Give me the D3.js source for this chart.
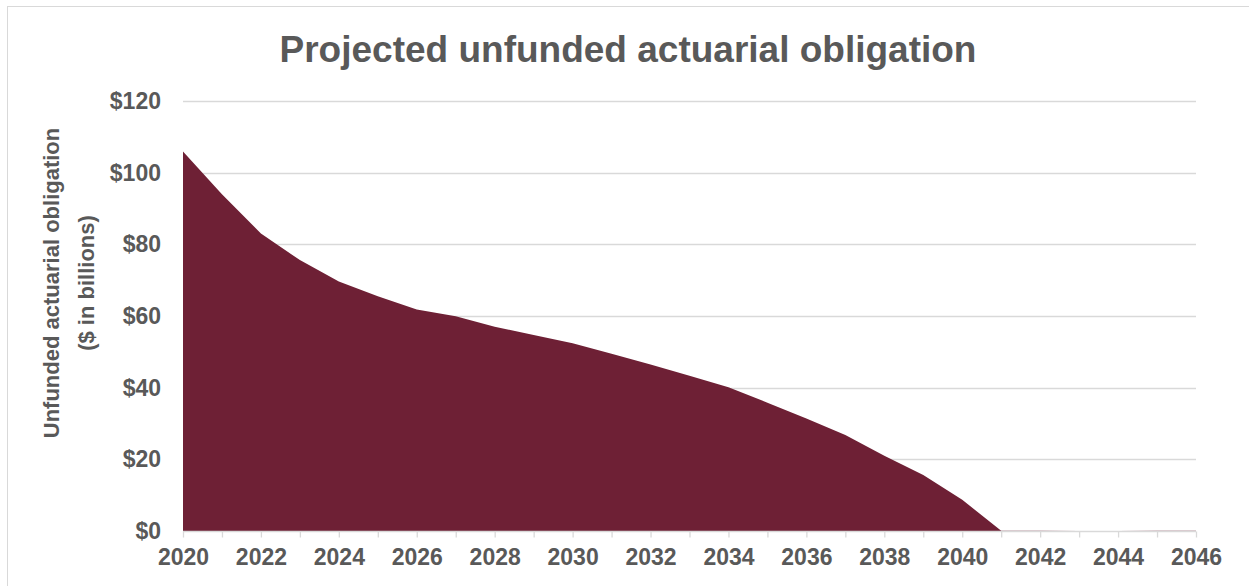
<!DOCTYPE html>
<html>
<head>
<meta charset="utf-8">
<script src="https://cdn.jsdelivr.net/npm/d3@7"></script>
<style>
  html, body { margin: 0; padding: 0; background: #fff; }
  svg { display: block; font-family: "Liberation Sans", Arial, sans-serif; }
</style>
</head>
<body>
<svg id="chart" width="1249" height="586"></svg>
<script>
// Projected unfunded actuarial obligation, $ in billions, by year
const years = [2020, 2021, 2022, 2023, 2024, 2025, 2026, 2027, 2028, 2029,
               2030, 2031, 2032, 2033, 2034, 2035, 2036, 2037, 2038, 2039,
               2040, 2041, 2042, 2043, 2044, 2045, 2046];
const obligation = [105.9, 94.0, 83.0, 75.6, 69.6, 65.5, 61.8, 59.9, 57.0, 54.7,
                    52.4, 49.5, 46.5, 43.3, 40.1, 35.8, 31.4, 26.8, 21.0, 15.6,
                    8.7, 0.1, 0.1, 0, 0, 0.1, 0.1];
const yTicks = [0, 20, 40, 60, 80, 100, 120];
const xLabelYears = [2020, 2022, 2024, 2026, 2028, 2030, 2032, 2034, 2036, 2038,
                     2040, 2042, 2044, 2046];

const titleText = "Projected unfunded actuarial obligation";
const yTitleLines = ["Unfunded actuarial obligation", "($ in billions)"];

const svg = d3.select("#chart");
const W = 1249, H = 586;
const plot = { left: 183, right: 1196, top: 101, bottom: 531 };
const textColor = "#595959";
const gridColor = "#d9d9d9";
const fillColor = "#6e2035";

// chart frame (left and top edges are visible in the window)
svg.append("rect")
  .attr("x", 7.5).attr("y", 6.5)
  .attr("width", W + 20).attr("height", H + 20)
  .attr("fill", "#fff")
  .attr("stroke", gridColor).attr("stroke-width", 1);

const x = d3.scaleLinear().domain([2020, 2046]).range([plot.left, plot.right]);
const y = d3.scaleLinear().domain([0, 120]).range([plot.bottom, plot.top]);

// horizontal gridlines
svg.append("g")
  .selectAll("line")
  .data(yTicks.filter(d => d > 0))
  .join("line")
  .attr("x1", plot.left).attr("x2", plot.right)
  .attr("y1", d => Math.round(y(d)) + 0.5).attr("y2", d => Math.round(y(d)) + 0.5)
  .attr("stroke", gridColor).attr("stroke-width", 1.3);

// area
const data = years.map((yr, i) => ({ yr, v: obligation[i] }));
const area = d3.area()
  .x(d => x(d.yr))
  .y0(y(0))
  .y1(d => y(d.v));
svg.append("path")
  .datum(data)
  .attr("d", area)
  .attr("fill", fillColor);

// y axis labels
const yAxis = d3.axisLeft(y)
  .tickValues(yTicks)
  .tickSize(0)
  .tickPadding(22)
  .tickFormat(d => "$" + d);
const gy = svg.append("g")
  .attr("transform", `translate(${plot.left},0)`)
  .call(yAxis);
gy.select(".domain").remove();
gy.selectAll("text")
  .attr("fill", textColor)
  .attr("font-size", 23)
  .attr("font-weight", "bold")
  .attr("font-family", "Liberation Sans, Arial, sans-serif");

// x axis: a tick every year, a label every other year
const xAxis = d3.axisBottom(x)
  .tickValues(years)
  .tickSize(6)
  .tickPadding(11)
  .tickFormat(d => xLabelYears.includes(d) ? String(d) : "");
const gx = svg.append("g")
  .attr("transform", `translate(0,${plot.bottom + 0.5})`)
  .call(xAxis);
gx.select(".domain")
  .attr("stroke", gridColor).attr("stroke-width", 1.3)
  .attr("d", `M${plot.left},0H${plot.right}`);
gx.selectAll(".tick line").attr("stroke", gridColor).attr("stroke-width", 1.3);
gx.selectAll("text")
  .attr("fill", textColor)
  .attr("font-size", 23)
  .attr("font-weight", "bold")
  .attr("font-family", "Liberation Sans, Arial, sans-serif");

// chart title
svg.append("text")
  .attr("x", 628).attr("y", 62)
  .attr("text-anchor", "middle")
  .attr("fill", textColor)
  .attr("font-size", 37)
  .attr("font-weight", "bold")
  .text(titleText);

// y axis title, two lines rotated
const yTitle = svg.append("text")
  .attr("transform", "translate(59,283) rotate(-90)")
  .attr("text-anchor", "middle")
  .attr("fill", textColor)
  .attr("font-size", 22)
  .attr("font-weight", "bold");
yTitle.selectAll("tspan")
  .data(yTitleLines)
  .join("tspan")
  .attr("x", 0)
  .attr("dy", (d, i) => i === 0 ? 0 : 35)
  .text(d => d);
</script>
</body>
</html>
